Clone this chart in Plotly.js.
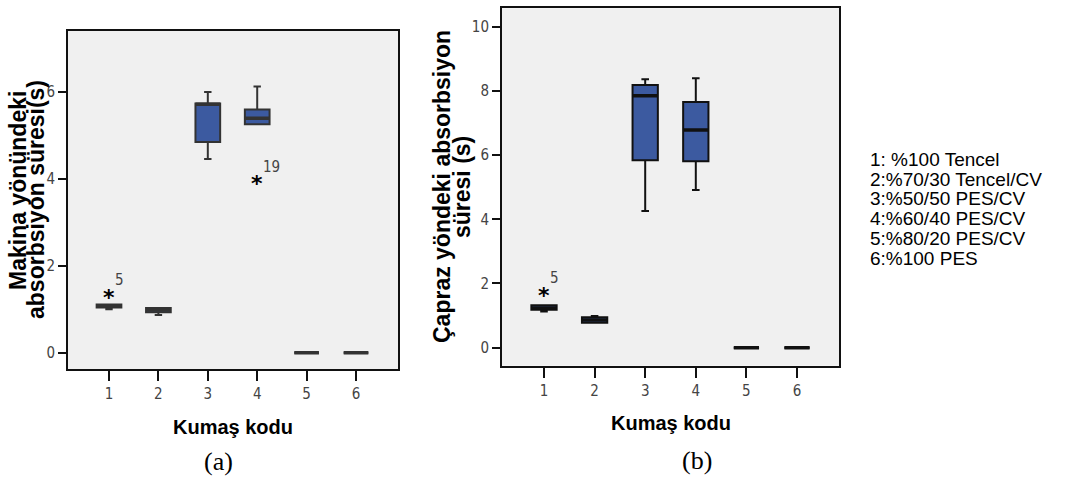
<!DOCTYPE html>
<html><head><meta charset="utf-8">
<script src="https://cdn.plot.ly/plotly-3.0.1.min.js"></script>
<style>body{margin:0;background:#fff}#chart{width:1065px;height:479px}</style>
</head><body><div id="chart"></div>
<script>
// ---------- data ----------
const categories = [1, 2, 3, 4, 5, 6];
const tickLabels = ['1', '2', '3', '4', '5', '6'];

// Panel (a): Makina yönündeki absorbsiyon süresi (s)
const aQ1     = [1.04, 0.93, 4.84, 5.25, 0, 0];
const aMedian = [1.08, 0.98, 5.71, 5.39, 0, 0];
const aQ3     = [1.11, 1.03, 5.73, 5.59, 0, 0];
const aLower  = [1.00, 0.87, 4.45, 5.25, 0, 0];
const aUpper  = [1.11, 1.03, 5.99, 6.12, 0, 0];
const aOutX = [1, 4];
const aOutY = [1.34, 3.95];
const aOutLabels = ['5', '19'];
const aTickVals = [0, 2, 4, 6];

// Panel (b): Çapraz yöndeki absorbsiyon süresi (s)
const bQ1     = [1.18, 0.78, 5.84, 5.81, 0, 0];
const bMedian = [1.24, 0.86, 7.85, 6.78, 0, 0];
const bQ3     = [1.32, 0.95, 8.18, 7.65, 0, 0];
const bLower  = [1.13, 0.78, 4.26, 4.91, 0, 0];
const bUpper  = [1.32, 0.99, 8.36, 8.39, 0, 0];
const bOutX = [1];
const bOutY = [1.73];
const bOutLabels = ['5'];
const bTickVals = [0, 2, 4, 6, 8, 10];

const legendLines = ['1: %100 Tencel', '2:%70/30 Tencel/CV', '3:%50/50 PES/CV',
                     '4:%60/40 PES/CV', '5:%80/20 PES/CV', '6:%100 PES'];

// ---------- helpers ----------
const W = 1065, H = 479;
const px = v => v / W;
const py = v => 1 - v / H;
const FILL = '#3C5AA0';
const tickFont = {family: 'DejaVu Sans Condensed, DejaVu Sans, sans-serif', size: 15, color: '#444'};

function boxTrace(q1, med, q3, lo, hi, xa, ya, col) {
  return {type: 'box', x: categories, q1: q1, median: med, q3: q3,
    lowerfence: lo, upperfence: hi, xaxis: xa, yaxis: ya,
    fillcolor: FILL, line: {color: col, width: 2}, width: 0.5, whiskerwidth: 0.3,
    boxpoints: false, hoverinfo: 'skip', showlegend: false};
}
function medTrace(med, xa, ya, col, size) {
  return {type: 'scatter', mode: 'markers', x: categories, y: med, xaxis: xa, yaxis: ya,
    marker: {symbol: 'line-ew', size: size, line: {color: col, width: 3.5}},
    hoverinfo: 'skip', showlegend: false};
}

const data = [
  boxTrace(aQ1, aMedian, aQ3, aLower, aUpper, 'x', 'y', '#333'),
  medTrace(aMedian, 'x', 'y', '#333', 17.6),
  boxTrace(bQ1, bMedian, bQ3, bLower, bUpper, 'x2', 'y2', '#111'),
  medTrace(bMedian, 'x2', 'y2', '#111', 18)
];

function xAxis(domain, range) {
  return {domain: domain, range: range, tickmode: 'array', tickvals: categories, ticktext: tickLabels,
    ticks: 'outside', ticklen: 10, tickwidth: 2, tickcolor: '#111',
    showline: true, linecolor: '#111', linewidth: 2, mirror: true,
    showgrid: false, zeroline: false, tickfont: tickFont, fixedrange: true};
}
function yAxis(domain, range, vals, anchor) {
  return {domain: domain, range: range, tickmode: 'array', tickvals: vals,
    ticks: 'outside', ticklen: 8, tickwidth: 2, tickcolor: '#111',
    showline: true, linecolor: '#111', linewidth: 2, mirror: true, anchor: anchor,
    showgrid: false, zeroline: false, tickfont: tickFont, fixedrange: true};
}

const annotations = [];
function outliers(xs, ys, labels, xr, yr) {
  xs.forEach((x, i) => {
    annotations.push({xref: xr, yref: yr, x: x, y: ys[i], text: '*', showarrow: false,
      font: {family: 'DejaVu Sans', size: 22, color: '#000', weight: 'bold'}, xanchor: 'center', yanchor: 'middle', yshift: -3});
    annotations.push({xref: xr, yref: yr, x: x, y: ys[i], text: labels[i], showarrow: false,
      font: tickFont, xanchor: 'left', yanchor: 'middle', xshift: 4, yshift: 14});
  });
}
outliers(aOutX, aOutY, aOutLabels, 'x', 'y');
outliers(bOutX, bOutY, bOutLabels, 'x2', 'y2');

const titleFont = {family: 'Liberation Sans, Arial, sans-serif', size: 23, color: '#000', weight: 'bold'};
function rot(text, x, y) {
  annotations.push({xref: 'paper', yref: 'paper', x: px(x), y: py(y), text: text, textangle: -90,
    showarrow: false, font: titleFont, xanchor: 'center', yanchor: 'middle'});
}
rot('Makina yönündeki', 18, 191);
rot('absorbsiyon süresi(s)', 36, 200);
rot('Çapraz yöndeki absorbsiyon', 442, 187);
rot('süresi (s)', 462, 187);

const xtFont = {family: 'Liberation Sans Narrow, Arial Narrow, Liberation Sans, sans-serif', size: 20, color: '#000', weight: 'bold'};
function plain(text, x, y, font, xanchor) {
  annotations.push({xref: 'paper', yref: 'paper', x: px(x), y: py(y), text: text, showarrow: false,
    font: font, xanchor: xanchor || 'center', yanchor: 'middle'});
}
plain('Kumaş kodu', 233, 427, xtFont);
plain('Kumaş kodu', 671, 423, xtFont);
const capFont = {family: 'Liberation Serif, DejaVu Serif, serif', size: 26, color: '#000'};
plain('(a)', 218, 461, capFont);
plain('(b)', 697, 460, capFont);

const legFont = {family: 'Liberation Sans, Arial, sans-serif', size: 19, color: '#000'};
const legY = [159, 179, 198, 218, 238, 258];
legendLines.forEach((t, i) => plain(t, 868, legY[i], legFont, 'left'));

const layout = {
  width: W, height: H, autosize: false,
  margin: {l: 0, r: 0, t: 0, b: 0},
  paper_bgcolor: '#fff', plot_bgcolor: '#F0F0F0',
  showlegend: false,
  xaxis: xAxis([px(68), px(398)], [0.17, 6.85]),
  yaxis: yAxis([py(369.3), py(30.7)], [-0.38, 7.40], aTickVals, 'x'),
  xaxis2: Object.assign(xAxis([px(502), px(839)], [0.17, 6.83]), {anchor: 'y2'}),
  yaxis2: yAxis([py(365.7), py(8.3)], [-0.56, 10.57], bTickVals, 'x2'),
  annotations: annotations
};
layout.xaxis.anchor = 'y';

Plotly.newPlot('chart', data, layout, {staticPlot: true, displayModeBar: false});
</script></body></html>
